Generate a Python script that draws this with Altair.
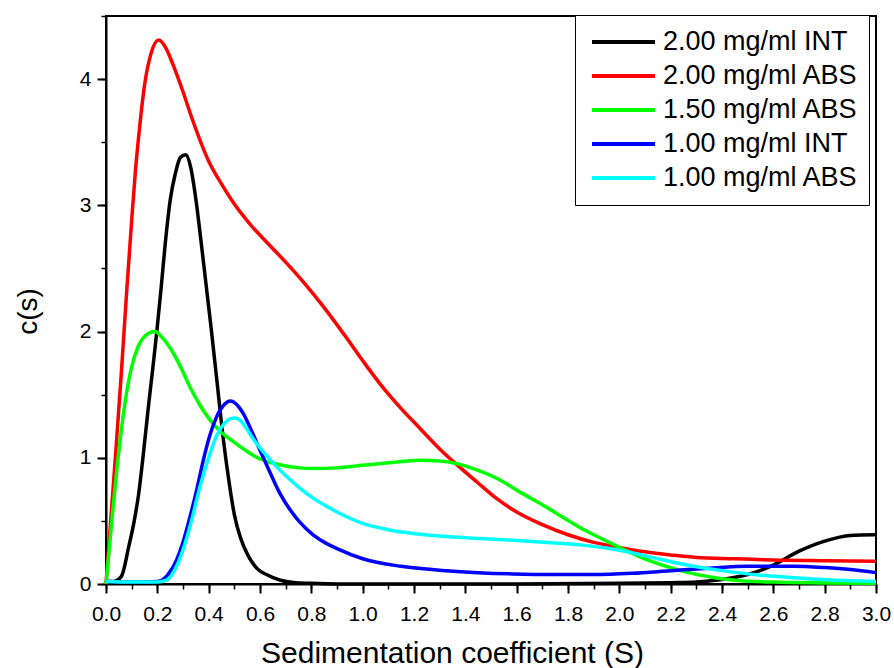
import altair as alt
import pandas as pd

# ---------------- data ----------------
series_names = ["2.00 mg/ml INT", "2.00 mg/ml ABS", "1.50 mg/ml ABS",
                "1.00 mg/ml INT", "1.00 mg/ml ABS"]
series_colors = ["#000000", "#ff0000", "#00ff00", "#0000ff", "#00ffff"]

black_s = [0, 0.03, 0.06, 0.088, 0.11, 0.127, 0.145, 0.166, 0.183, 0.198, 0.215,
           0.231, 0.25, 0.27, 0.29, 0.311, 0.33, 0.35, 0.37, 0.39, 0.41, 0.43,
           0.457, 0.48, 0.50, 0.525, 0.55, 0.59, 0.625, 0.68, 0.73, 0.80, 0.9,
           1.2, 1.6, 2.0, 2.2, 2.3, 2.4, 2.5, 2.6, 2.7, 2.8, 2.9, 3.0]
black_c = [0.02, 0.02, 0.06, 0.29, 0.5, 0.71, 1.02, 1.42, 1.72, 2.0, 2.35,
           2.7, 3.04, 3.25, 3.38, 3.40, 3.3, 3.05, 2.72, 2.37, 2.02, 1.65,
           1.15, 0.8, 0.55, 0.36, 0.24, 0.12, 0.075, 0.03, 0.012, 0.005, 0.0,
           0.0, 0.0, 0.005, 0.01, 0.015, 0.035, 0.075, 0.15, 0.26, 0.34, 0.385, 0.39]

red_s = [0, 0.02, 0.04, 0.06, 0.08, 0.10, 0.115, 0.13, 0.15, 0.175, 0.205, 0.235,
         0.26, 0.30, 0.34, 0.40, 0.45, 0.50, 0.57, 0.63, 0.70, 0.77, 0.85, 0.93,
         1.0, 1.07, 1.15, 1.22, 1.30, 1.37, 1.45, 1.52, 1.60, 1.70, 1.80, 1.90,
         2.0, 2.1, 2.2, 2.3, 2.45, 2.6, 2.8, 3.0]
red_c = [0, 0.55, 1.1, 1.68, 2.3, 2.88, 3.28, 3.6, 3.95, 4.2, 4.31, 4.24,
         4.12, 3.9, 3.66, 3.35, 3.17, 3.01, 2.83, 2.7, 2.55, 2.39, 2.19, 1.97,
         1.77, 1.58, 1.39, 1.24, 1.07, 0.94, 0.8, 0.68, 0.57, 0.47, 0.39, 0.33,
         0.29, 0.255, 0.23, 0.21, 0.2, 0.19, 0.185, 0.18]

green_s = [0, 0.025, 0.05, 0.075, 0.10, 0.125, 0.155, 0.19, 0.22, 0.262, 0.30,
           0.327, 0.365, 0.405, 0.45, 0.495, 0.55, 0.6, 0.677, 0.755, 0.81, 0.9,
           1.0, 1.1, 1.22, 1.3, 1.365, 1.45, 1.52, 1.62, 1.715, 1.77, 1.844, 1.92,
           2.0, 2.08, 2.158, 2.25, 2.354, 2.45, 2.6, 2.8, 3.0]
green_c = [0, 0.55, 1.05, 1.45, 1.72, 1.88, 1.97, 2.0, 1.95, 1.83, 1.68,
           1.56, 1.42, 1.30, 1.2, 1.13, 1.05, 0.99, 0.945, 0.92, 0.915, 0.92,
           0.94, 0.96, 0.98, 0.975, 0.955, 0.9, 0.84, 0.72, 0.61, 0.54, 0.45, 0.37,
           0.29, 0.215, 0.155, 0.1, 0.055, 0.03, 0.015, 0.008, 0.005]

blue_s = [0, 0.1, 0.2, 0.24, 0.275, 0.30, 0.327, 0.355, 0.379, 0.405, 0.43, 0.46,
          0.485, 0.51, 0.535, 0.57, 0.6, 0.64, 0.677, 0.72, 0.755, 0.807, 0.86,
          0.9, 1.0, 1.15, 1.326, 1.45, 1.585, 1.75, 1.9, 2.05, 2.2, 2.35, 2.5,
          2.68, 2.8, 2.9, 3.0]
blue_c = [0.02, 0.015, 0.02, 0.07, 0.19, 0.33, 0.53, 0.76, 0.98, 1.18, 1.32, 1.42,
          1.45, 1.42, 1.35, 1.2, 1.06, 0.88, 0.72, 0.58, 0.49, 0.39, 0.32,
          0.28, 0.2, 0.14, 0.105, 0.09, 0.08, 0.075, 0.075, 0.085, 0.105, 0.125,
          0.14, 0.14, 0.13, 0.115, 0.09]

cyan_s = [0, 0.1, 0.2, 0.236, 0.27, 0.30, 0.333, 0.366, 0.40, 0.43, 0.46, 0.485,
          0.502, 0.52, 0.545, 0.573, 0.62, 0.664, 0.71, 0.755, 0.807, 0.86, 0.9,
          1.0, 1.1, 1.196, 1.3, 1.455, 1.6, 1.75, 1.844, 1.95, 2.03, 2.15, 2.29,
          2.42, 2.55, 2.68, 2.81, 3.0]
cyan_c = [0.02, 0.015, 0.015, 0.03, 0.12, 0.27, 0.5, 0.77, 1.0, 1.17, 1.27, 1.31,
          1.315, 1.3, 1.24, 1.15, 1.03, 0.93, 0.84, 0.76, 0.68, 0.615, 0.57,
          0.48, 0.43, 0.40, 0.38, 0.36, 0.345, 0.325, 0.31, 0.285, 0.255, 0.2,
          0.14, 0.1, 0.07, 0.05, 0.034, 0.02]

x_major = [round(0.2 * i, 1) for i in range(16)]
x_minor = [round(0.1 * i, 1) for i in range(31)]
y_major = [0, 1, 2, 3, 4]
y_minor = [round(0.5 * i, 1) for i in range(10)]

x_title = "Sedimentation coefficient (S)"
y_title = "c(s)"

# ---------------- table ----------------
all_s = [black_s, red_s, green_s, blue_s, cyan_s]
all_c = [black_c, red_c, green_c, blue_c, cyan_c]
rows = []
for name, xs, ys in zip(series_names, all_s, all_c):
    for x, y in zip(xs, ys):
        rows.append({"series": name, "s": x, "c": y})
df = pd.DataFrame(rows)

FONT = "Liberation Sans"
xscale = alt.Scale(domain=[0, 3], nice=False, zero=False)
yscale = alt.Scale(domain=[0, 4.5], nice=False, zero=False)

minor = alt.Chart(df).mark_line(opacity=0).encode(
    x=alt.X("s:Q", scale=xscale,
            axis=alt.Axis(orient="bottom", values=x_minor, labels=False, tickSize=5,
                          tickWidth=1.5, tickColor="black", domain=False, grid=False,
                          title="")),
    y=alt.Y("c:Q", scale=yscale,
            axis=alt.Axis(orient="left", values=y_minor, labels=False, tickSize=5,
                          tickWidth=1.5, tickColor="black", domain=False, grid=False,
                          title="")),
    detail="series:N",
)

lines = alt.Chart(df).mark_line(strokeWidth=3.5, interpolate="monotone").encode(
    x=alt.X("s:Q", scale=xscale,
            axis=alt.Axis(orient="bottom", values=x_major, format=".1f", tickSize=9,
                          tickWidth=2, tickColor="black", domain=True,
                          domainColor="black", domainWidth=2, grid=False,
                          labelFont=FONT, labelFontSize=21, labelColor="black",
                          labelPadding=10, labelFlush=False,
                          title=x_title, titleFont=FONT, titleFontSize=30,
                          titleFontWeight="normal", titleColor="black",
                          titleX=346, titleY=78, titleAlign="center",
                          titleBaseline="alphabetic")),
    y=alt.Y("c:Q", scale=yscale,
            axis=alt.Axis(orient="left", values=y_major, format="d", tickSize=9,
                          tickWidth=2, tickColor="black", domain=True,
                          domainColor="black", domainWidth=2, grid=False,
                          labelFont=FONT, labelFontSize=21, labelColor="black",
                          labelPadding=6, labelFlush=False,
                          title=y_title, titleFont=FONT, titleFontSize=28,
                          titleFontWeight="normal", titleColor="black",
                          titleX=-78, titleY=295, titleAngle=-90,
                          titleAlign="center", titleBaseline="middle")),
    color=alt.Color("series:N",
                    scale=alt.Scale(domain=series_names, range=series_colors),
                    sort=series_names,
                    legend=alt.Legend(title=None, orient="none", legendX=469,
                                      legendY=-1, symbolType="stroke",
                                      symbolSize=3969, symbolStrokeWidth=4,
                                      clipHeight=34, rowPadding=0,
                                      labelFont=FONT, labelFontSize=27,
                                      labelColor="black", labelOffset=6,
                                      labelLimit=400, padding=10, symbolOffset=5,
                                      fillColor="white", strokeColor="black")),
)

chart = alt.layer(minor, lines).resolve_axis(
    x="independent", y="independent"
).properties(
    width=770, height=568,
    padding={"left": 106, "top": 16, "right": 18, "bottom": 84},
    autosize=alt.AutoSizeParams(type="none"),
    background="white",
).configure_view(stroke="black", strokeWidth=2)

chart.save("out.html", embed_options={"renderer": "svg", "actions": False})
